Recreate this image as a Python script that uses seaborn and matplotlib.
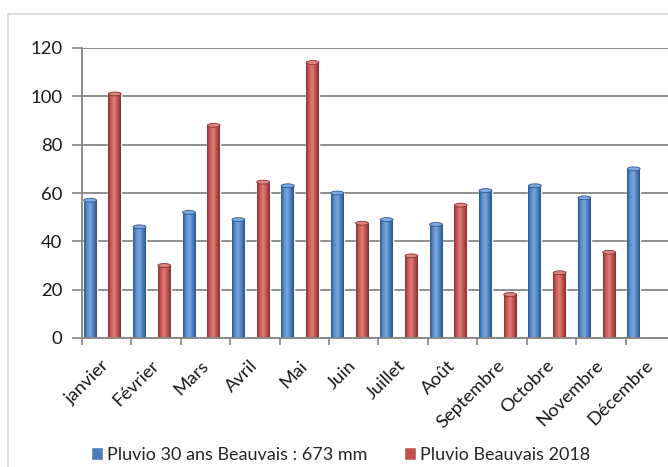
import numpy as np
import pandas as pd
import matplotlib
matplotlib.use("Agg")
import matplotlib.pyplot as plt
import seaborn as sns
from matplotlib.colors import LinearSegmentedColormap
from matplotlib.patches import Ellipse, Rectangle

months = ["janvier", "Février", "Mars", "Avril", "Mai", "Juin", "Juillet",
          "Août", "Septembre", "Octobre", "Novembre", "Décembre"]
normale = [57, 46, 52, 49, 63, 60, 49, 47, 61, 63, 58, 70]
pluie_2018 = [101, 30, 88, 64.5, 114, 47.5, 34, 55, 18, 27, 35.5, np.nan]
series = ["Pluvio 30 ans Beauvais : 673 mm", "Pluvio Beauvais 2018"]
yticks = [0, 20, 40, 60, 80, 100, 120]

df = pd.DataFrame({
    "Mois": months * 2,
    "Pluie": normale + pluie_2018,
    "Série": [series[0]] * len(months) + [series[1]] * len(months),
})

sns.set_theme(style="white")
plt.rcParams["font.family"] = ["Lato", "DejaVu Sans"]

blue = "#4A7EBB"
red = "#C0504D"
fig = plt.figure(figsize=(6.68, 4.67), dpi=100)
ax = fig.add_axes([82 / 668, (467 - 338) / 467, 593 / 668, 290 / 467])

sns.barplot(data=df, x="Mois", y="Pluie", hue="Série", palette=[blue, red],
            width=1.0, gap=0.48, saturation=1, errorbar=None, ax=ax)

# cylinder-like shading
grads = {
    blue: LinearSegmentedColormap.from_list("b", ["#2D5A90", "#5D90CF", "#7AA6DE", "#4C7FBE", "#2A558A"]),
    red: LinearSegmentedColormap.from_list("r", ["#8C3331", "#CF5E5B", "#DE7D7A", "#BE4E4B", "#84302D"]),
}
grad = np.linspace(0, 1, 64).reshape(1, -1)
for p in list(ax.patches):
    x0, y0 = p.get_x(), p.get_y()
    w, h = p.get_width(), p.get_height()
    if not np.isfinite(h) or h <= 0:
        continue
    fc = matplotlib.colors.to_hex(p.get_facecolor())
    is_blue = fc.lower() == blue.lower()
    cmap = grads[blue] if is_blue else grads[red]
    ax.imshow(grad, extent=[x0, x0 + w, y0, y0 + h], aspect="auto", cmap=cmap,
              zorder=p.get_zorder() + 0.1, interpolation="bilinear")
    top = "#7FA8DC" if is_blue else "#D98683"
    edge = "#2F5C94" if is_blue else "#8E3330"
    ax.add_patch(Ellipse((x0 + w / 2, y0 + h), w, 1.6, facecolor=top,
                         edgecolor=edge, lw=0.6, zorder=p.get_zorder() + 0.2))

ax.set_xlim(-0.415, 11.585)
ax.set_ylim(0, 120)
ax.set_yticks(yticks)
ax.set_xticks([k + 0.085 for k in range(12)])
ax.set_xticklabels(months, rotation=45, ha="right", va="center",
                   rotation_mode="anchor", fontsize=13.3, color="#1a1a1a")
ax.set_xticks([k - 0.415 for k in range(13)], minor=True)
ax.tick_params(axis="x", which="major", length=0, pad=18)
ax.tick_params(axis="x", which="minor", length=5, width=1.2, color="#868686",
               direction="out", bottom=True)
ax.tick_params(axis="y", length=7, width=1.2, color="#868686", direction="out",
               left=True, labelsize=13.3, labelcolor="#1a1a1a", pad=7)
ax.set_xlabel("")
ax.set_ylabel("")
ax.grid(axis="y", color="#868686", lw=1.3)
ax.set_axisbelow(True)
for s in ["top", "right"]:
    ax.spines[s].set_visible(False)
for s in ["left", "bottom"]:
    ax.spines[s].set_color("#868686")
    ax.spines[s].set_linewidth(1.3)

sns.move_legend(ax, "center", bbox_to_anchor=(0.51, 0.026),
                bbox_transform=fig.transFigure, ncol=2, title=None,
                frameon=False, fontsize=13, handlelength=0.66,
                handleheight=0.66, handletextpad=0.25, columnspacing=2.0)

fig.patches.append(Rectangle((8 / 668, -0.1), 1.2, (467 - 14) / 467 + 0.1,
                             transform=fig.transFigure, fill=False,
                             edgecolor="#d9d9d9", lw=1.2, zorder=-1))

fig.savefig("out.png", dpi=100, facecolor="white")
